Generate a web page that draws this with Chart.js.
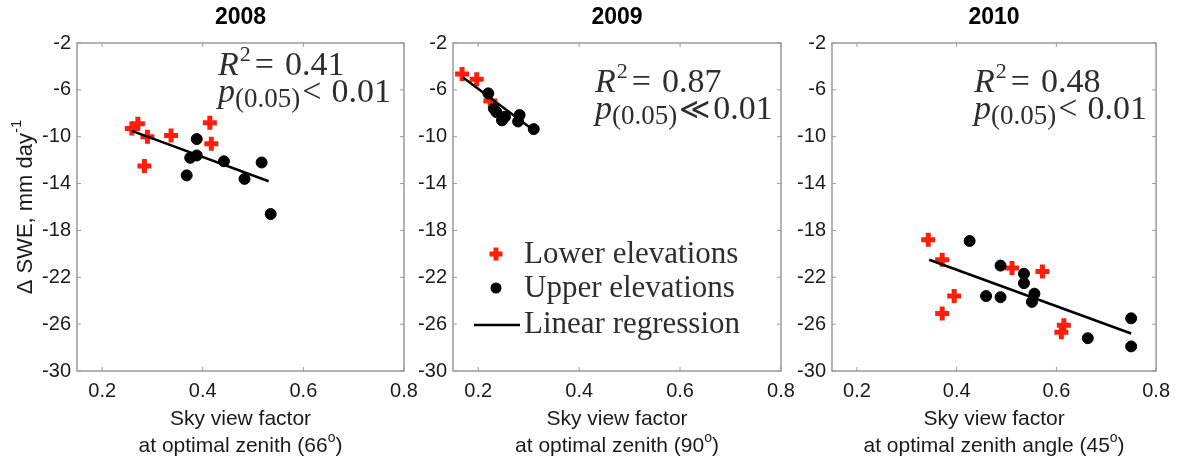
<!DOCTYPE html>
<html>
<head>
<meta charset="utf-8">
<script src="https://cdn.jsdelivr.net/npm/chart.js@4.4.1/dist/chart.umd.min.js"></script>
<style>
  body { margin: 0; background: #fff; }
  .wrap { position: relative; width: 1178px; height: 461px; }
  .wrap canvas { position: absolute; left: 0; top: 0; }
</style>
</head>
<body>
<div class="wrap">
  <canvas id="c2008" width="1178" height="461"></canvas>
  <canvas id="c2009" width="1178" height="461"></canvas>
  <canvas id="c2010" width="1178" height="461"></canvas>
</div>
<script>
// axis ticks shared by the three panels
const xTicks = [0.2, 0.4, 0.6, 0.8];
const yTicks = [-2, -6, -10, -14, -18, -22, -26, -30];

// 2008
const lower2008X = [0.259, 0.271, 0.290, 0.284, 0.337, 0.414, 0.417];
const lower2008Y = [-9.3, -8.9, -10.0, -12.5, -9.9, -8.8, -10.6];
const upper2008X = [0.368, 0.375, 0.388, 0.388, 0.442, 0.483, 0.517, 0.535];
const upper2008Y = [-13.3, -11.8, -10.2, -11.6, -12.1, -13.6, -12.2, -16.6];
const fit2008X = [0.259, 0.531];
const fit2008Y = [-9.5, -13.8];

// 2009
const lower2009X = [0.168, 0.197, 0.224];
const lower2009Y = [-4.65, -5.1, -6.95];
const upper2009X = [0.220, 0.231, 0.236, 0.247, 0.253, 0.279, 0.282, 0.310];
const upper2009Y = [-6.3, -7.6, -7.9, -8.6, -8.3, -8.7, -8.15, -9.35];
const fit2009X = [0.170, 0.305];
const fit2009Y = [-4.95, -9.3];

// 2010
const lower2010X = [0.343, 0.371, 0.395, 0.371, 0.511, 0.572, 0.615, 0.610];
const lower2010Y = [-18.8, -20.5, -23.6, -25.1, -21.2, -21.5, -26.1, -26.7];
const upper2010X = [0.426, 0.488, 0.459, 0.488, 0.535, 0.535, 0.556, 0.551, 0.663, 0.750, 0.750];
const upper2010Y = [-18.9, -21.0, -23.6, -23.7, -21.7, -22.5, -23.4, -24.1, -27.2, -25.5, -27.9];
const fit2010X = [0.345, 0.750];
const fit2010Y = [-20.5, -26.8];

const RED = "#ff1e0a";
const FRAME = "#9a9a9a";
const SANS = '"Liberation Sans", Arial, sans-serif';
const SERIF = '"Liberation Serif", "DejaVu Serif", serif';

const toPoints = (xs, ys) => xs.map((x, i) => ({ x: x, y: ys[i] }));

const lowerStyle = { pointStyle: "cross", pointRadius: 7, pointBorderWidth: 5, borderColor: RED, backgroundColor: RED };
const upperStyle = { pointStyle: "circle", pointRadius: 5.5, pointBorderWidth: 1, borderColor: "#000", backgroundColor: "#000" };

// draws the box, inward ticks, titles, stats text and the legend
const panelPlugin = {
  id: "panel",
  afterDraw(chart, args, opts) {
    const ctx = chart.ctx;
    const a = chart.chartArea;
    const xs = chart.scales.x;
    const ys = chart.scales.y;
    ctx.save();

    // frame + inward ticks
    ctx.strokeStyle = FRAME;
    ctx.lineWidth = 1.5;
    ctx.strokeRect(a.left, a.top, a.right - a.left, a.bottom - a.top);
    ctx.lineWidth = 1;
    ctx.beginPath();
    xTicks.forEach(v => {
      const px = xs.getPixelForValue(v);
      ctx.moveTo(px, a.bottom); ctx.lineTo(px, a.bottom - 4);
      ctx.moveTo(px, a.top); ctx.lineTo(px, a.top + 4);
    });
    yTicks.forEach(v => {
      const py = ys.getPixelForValue(v);
      ctx.moveTo(a.left, py); ctx.lineTo(a.left + 4, py);
      ctx.moveTo(a.right, py); ctx.lineTo(a.right - 4, py);
    });
    ctx.stroke();

    const cx = (a.left + a.right) / 2;

    // year title
    ctx.fillStyle = "#000";
    ctx.textAlign = "center";
    ctx.textBaseline = "middle";
    ctx.font = "bold 23px " + SANS;
    ctx.fillText(opts.year, cx, 18);

    // x axis title, two lines, degree written as superscript o
    ctx.fillStyle = "#1a1a1a";
    ctx.font = "21px " + SANS;
    ctx.textBaseline = "alphabetic";
    ctx.fillText("Sky view factor", cx, 425);
    const pre = opts.xLine2 + " (" + opts.angle;
    ctx.font = "21px " + SANS;
    const w1 = ctx.measureText(pre).width;
    const w3 = ctx.measureText(")").width;
    ctx.font = "14px " + SANS;
    const w2 = ctx.measureText("o").width;
    let sx = cx - (w1 + w2 + w3) / 2;
    ctx.textAlign = "left";
    ctx.font = "21px " + SANS;
    ctx.fillText(pre, sx, 452);
    ctx.font = "14px " + SANS;
    ctx.fillText("o", sx + w1, 442);
    ctx.font = "21px " + SANS;
    ctx.fillText(")", sx + w1 + w2, 452);

    // y axis title on the first panel
    if (opts.yTitle) {
      ctx.save();
      ctx.translate(32, (a.top + a.bottom) / 2);
      ctx.rotate(-Math.PI / 2);
      ctx.font = "22px " + SANS;
      const main = "\u0394 SWE, mm day";
      const mw = ctx.measureText(main).width;
      ctx.font = "15px " + SANS;
      const sw = ctx.measureText("-1").width;
      const start = -(mw + sw) / 2;
      ctx.textAlign = "left";
      ctx.font = "22px " + SANS;
      ctx.fillText(main, start, 0);
      ctx.font = "15px " + SANS;
      ctx.fillText("-1", start + mw, -11);
      ctx.restore();
    }

    // R^2 and p text
    const st = opts.stat;
    let tx = a.left + st.dx;
    let ty = a.top + st.dy;
    ctx.fillStyle = "#2e2e2e";
    ctx.textAlign = "left";
    ctx.font = "italic 34px " + SERIF;
    ctx.fillText("R", tx, ty);
    tx += ctx.measureText("R").width + 1;
    ctx.font = "22px " + SERIF;
    ctx.fillText("2", tx, ty - 14);
    tx += ctx.measureText("2").width + 4;
    ctx.font = "34px " + SERIF;
    ctx.fillText("=", tx, ty);
    tx += ctx.measureText("=").width + 11;
    ctx.fillText(st.r2, tx, ty);

    tx = a.left + st.dx;
    ty += 27;
    ctx.font = "italic 34px " + SERIF;
    ctx.fillText("p", tx, ty);
    tx += ctx.measureText("p").width;
    ctx.font = "27px " + SERIF;
    ctx.fillText("(0.05)", tx, ty + 5);
    tx += ctx.measureText("(0.05)").width + 2;
    ctx.font = (st.rel === "<" ? "34px " : "30px ") + SERIF;
    ctx.fillText(st.rel, tx, ty);
    tx += ctx.measureText(st.rel).width + st.gap;
    ctx.font = "34px " + SERIF;
    ctx.fillText("0.01", tx, ty);

    // legend inside the middle panel
    if (opts.legend) {
      const lx = a.left + 43;
      const ly = a.top + 211;
      const gap = 34;
      ctx.strokeStyle = RED;
      ctx.lineWidth = 5;
      ctx.beginPath();
      ctx.moveTo(lx - 6.5, ly); ctx.lineTo(lx + 6.5, ly);
      ctx.moveTo(lx, ly - 6.5); ctx.lineTo(lx, ly + 6.5);
      ctx.stroke();
      ctx.fillStyle = "#000";
      ctx.beginPath();
      ctx.arc(lx, ly + gap, 5.5, 0, Math.PI * 2);
      ctx.fill();
      ctx.strokeStyle = "#000";
      ctx.lineWidth = 2.5;
      ctx.beginPath();
      ctx.moveTo(lx - 22, ly + 2 * gap + 3);
      ctx.lineTo(lx + 24, ly + 2 * gap + 3);
      ctx.stroke();
      ctx.fillStyle = "#2e2e2e";
      ctx.font = "31px " + SERIF;
      ctx.fillText("Lower elevations", lx + 28, ly + 9);
      ctx.fillText("Upper elevations", lx + 28, ly + gap + 9);
      ctx.fillText("Linear regression", lx + 28, ly + 2 * gap + 11);
    }
    ctx.restore();
  }
};

function makePanel(id, area, lowX, lowY, upX, upY, fitX, fitY, panelOpts) {
  const yW = 60;
  const xH = 40;
  return new Chart(document.getElementById(id), {
    type: "scatter",
    data: {
      datasets: [
        {
          type: "line",
          data: toPoints(fitX, fitY),
          borderColor: "#000",
          borderWidth: 2.5,
          pointRadius: 0,
          fill: false,
          order: 0,
        },
        Object.assign({ data: toPoints(upX, upY), order: 1 }, upperStyle),
        Object.assign({ data: toPoints(lowX, lowY), order: 2 }, lowerStyle),
      ],
    },
    options: {
      responsive: false,
      animation: false,
      devicePixelRatio: 1,
      layout: {
        padding: {
          left: area.left - yW,
          top: area.top,
          right: 1178 - area.right,
          bottom: 461 - area.bottom - xH,
        },
      },
      plugins: {
        legend: { display: false },
        tooltip: { enabled: false },
        panel: panelOpts,
      },
      scales: {
        x: {
          type: "linear",
          min: 0.15,
          max: 0.8,
          afterBuildTicks: s => { s.ticks = xTicks.map(v => ({ value: v })); },
          afterFit: s => { s.height = xH; },
          grid: { display: false, drawTicks: false },
          border: { display: false },
          ticks: {
            autoSkip: false,
            maxRotation: 0,
            padding: 8,
            color: "#1a1a1a",
            font: { family: SANS, size: 20 },
            callback: v => String(v),
          },
        },
        y: {
          type: "linear",
          min: -30,
          max: -2,
          afterBuildTicks: s => { s.ticks = yTicks.map(v => ({ value: v })); },
          afterFit: s => { s.width = yW; },
          grid: { display: false, drawTicks: false },
          border: { display: false },
          ticks: {
            autoSkip: false,
            padding: 6,
            color: "#1a1a1a",
            font: { family: SANS, size: 20 },
            callback: v => String(v),
          },
        },
      },
    },
    plugins: [panelPlugin],
  });
}

makePanel("c2008", { left: 77, right: 404, top: 43, bottom: 371 },
  lower2008X, lower2008Y, upper2008X, upper2008Y, fit2008X, fit2008Y,
  { year: "2008", xLine2: "at optimal zenith", angle: "66", yTitle: true, legend: false,
    stat: { dx: 141, dy: 32, r2: "0.41", rel: "<", gap: 10 } });

makePanel("c2009", { left: 453, right: 781, top: 43, bottom: 371 },
  lower2009X, lower2009Y, upper2009X, upper2009Y, fit2009X, fit2009Y,
  { year: "2009", xLine2: "at optimal zenith", angle: "90", yTitle: false, legend: true,
    stat: { dx: 142, dy: 49, r2: "0.87", rel: "\u226A", gap: 3 } });

makePanel("c2010", { left: 832, right: 1159, top: 43, bottom: 371 },
  lower2010X, lower2010Y, upper2010X, upper2010Y, fit2010X, fit2010Y,
  { year: "2010", xLine2: "at optimal zenith angle", angle: "45", yTitle: false, legend: false,
    stat: { dx: 142, dy: 49, r2: "0.48", rel: "<", gap: 10 } });
</script>
</body>
</html>
